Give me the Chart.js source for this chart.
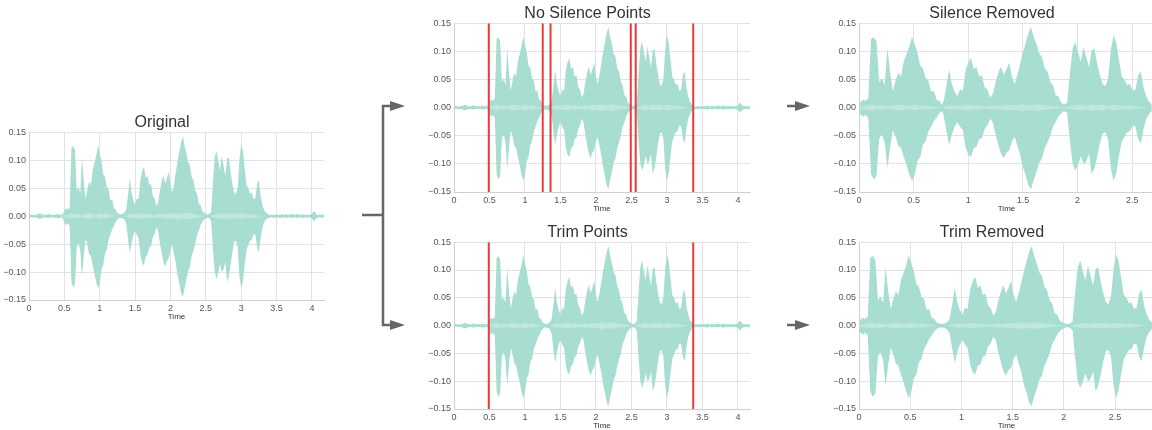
<!DOCTYPE html>
<html>
<head>
    <title>Silence removal</title>
    <script src="https://cdn.jsdelivr.net/npm/chart.js"></script>
    <style>
        body { margin: 0; width: 1152px; height: 430px; overflow: hidden; background: white; position: relative; }
        canvas { position: absolute; }
        #arrows { position: absolute; left: 0; top: 0; }
    </style>
</head>
<body>
    <canvas id="orig" width="335" height="215" style="left:0px;top:110px"></canvas>
    <canvas id="silencePts" width="335" height="216" style="left:425px;top:1px"></canvas>
    <canvas id="trimPts" width="335" height="214" style="left:425px;top:220px"></canvas>
    <canvas id="silenceOut" width="324" height="216" style="left:830px;top:1px"></canvas>
    <canvas id="trimOut" width="324" height="214" style="left:830px;top:220px"></canvas>

    <!-- flow arrows -->
    <svg id="arrows" width="1152" height="430">
        <g stroke="#666" stroke-width="2.5" fill="none">
            <polyline points="362,215 383,215" />
            <polyline points="392,106 383,106 383,325 392,325" />
            <line x1="787" y1="106" x2="797" y2="106" />
            <line x1="787" y1="325" x2="797" y2="325" />
        </g>
        <g fill="#666">
            <polygon points="390,101 405,106 390,111" />
            <polygon points="390,320 405,325 390,330" />
            <polygon points="795,101 810,106 795,111" />
            <polygon points="795,320 810,325 795,330" />
        </g>
    </svg>

<script>
// waveform envelope, one value every 0.025 s
const step = 0.025;
const upper = [
    0.002, 0.003, 0.002, 0.002, 0.003, 0.003, 0.005, 0.004, 0.002, 0.003,
    0.002, 0.004, 0.003, 0.002, 0.003, 0.002, 0.004, 0.002, 0.003, 0.003,
    0.010, 0.014, 0.012, 0.016, 0.122, 0.125, 0.118, 0.045, 0.052, 0.040,
    0.105, 0.062, 0.030, 0.048, 0.062, 0.055, 0.082, 0.095, 0.108, 0.126,
    0.112, 0.098, 0.075, 0.070, 0.052, 0.048, 0.028, 0.030, 0.014, 0.012,
    0.005, 0.004, 0.003, 0.004, 0.006, 0.012, 0.038, 0.068, 0.042, 0.028,
    0.020, 0.032, 0.030, 0.065, 0.080, 0.088, 0.068, 0.072, 0.055, 0.058,
    0.036, 0.032, 0.018, 0.024, 0.045, 0.062, 0.073, 0.058, 0.068, 0.080,
    0.055, 0.042, 0.058, 0.078, 0.098, 0.115, 0.132, 0.143, 0.125, 0.112,
    0.096, 0.090, 0.070, 0.064, 0.046, 0.040, 0.022, 0.020, 0.009, 0.006,
    0.004, 0.003, 0.004, 0.008, 0.060, 0.105, 0.117, 0.098, 0.082, 0.108,
    0.090, 0.072, 0.102, 0.105, 0.078, 0.058, 0.042, 0.038, 0.052, 0.102,
    0.129, 0.115, 0.085, 0.055, 0.050, 0.040, 0.042, 0.030, 0.032, 0.058,
    0.064, 0.035, 0.020, 0.010, 0.006, 0.004, 0.002, 0.003, 0.002, 0.003,
    0.002, 0.003, 0.002, 0.004, 0.002, 0.003, 0.003, 0.002, 0.003, 0.004,
    0.002, 0.003, 0.004, 0.002, 0.003, 0.003, 0.002, 0.003, 0.002, 0.003,
    0.004, 0.009, 0.006, 0.002, 0.003, 0.002, 0.003, 0.002
];
const lower = [
    -0.003, -0.002, -0.002, -0.003, -0.002, -0.004, -0.005, -0.004, -0.003, -0.002,
    -0.003, -0.004, -0.002, -0.003, -0.002, -0.003, -0.003, -0.004, -0.002, -0.003,
    -0.012, -0.016, -0.013, -0.018, -0.118, -0.128, -0.122, -0.055, -0.048, -0.062,
    -0.108, -0.070, -0.040, -0.052, -0.068, -0.072, -0.088, -0.102, -0.118, -0.130,
    -0.120, -0.095, -0.088, -0.066, -0.060, -0.042, -0.034, -0.024, -0.018, -0.010,
    -0.006, -0.003, -0.004, -0.004, -0.007, -0.014, -0.042, -0.067, -0.048, -0.034,
    -0.026, -0.034, -0.040, -0.070, -0.084, -0.088, -0.072, -0.070, -0.056, -0.054,
    -0.038, -0.032, -0.020, -0.026, -0.048, -0.066, -0.082, -0.090, -0.080, -0.076,
    -0.060, -0.052, -0.068, -0.084, -0.106, -0.120, -0.138, -0.145, -0.128, -0.114,
    -0.098, -0.090, -0.072, -0.062, -0.050, -0.034, -0.026, -0.016, -0.010, -0.006,
    -0.004, -0.003, -0.004, -0.009, -0.058, -0.100, -0.112, -0.102, -0.086, -0.100,
    -0.096, -0.082, -0.118, -0.108, -0.088, -0.064, -0.046, -0.044, -0.056, -0.108,
    -0.130, -0.116, -0.086, -0.060, -0.052, -0.044, -0.042, -0.032, -0.034, -0.056,
    -0.064, -0.038, -0.020, -0.011, -0.006, -0.004, -0.003, -0.002, -0.003, -0.003,
    -0.002, -0.003, -0.003, -0.004, -0.002, -0.003, -0.003, -0.002, -0.003, -0.003,
    -0.002, -0.003, -0.004, -0.002, -0.003, -0.003, -0.002, -0.003, -0.002, -0.003,
    -0.004, -0.009, -0.006, -0.003, -0.002, -0.003, -0.002, -0.003
];
// lighter core band near zero, one value every 0.05 s
const coreStep = 0.05;
const core = [
    0, 0, 0, 0, 0, 0, 0, 0, 0, 0,
    0.002, 0.003, 0.005, 0.003, 0.004, 0.002, 0.004, 0.005, 0.004, 0.003,
    0.005, 0.003, 0.004, 0.002, 0.001, 0, 0, 0, 0.002, 0.004,
    0.003, 0.004, 0.005, 0.003, 0.004, 0.002, 0.003, 0.004, 0.003, 0.005,
    0.004, 0.005, 0.006, 0.004, 0.005, 0.006, 0.004, 0.003, 0.002, 0.001,
    0, 0, 0.002, 0.004, 0.005, 0.003, 0.005, 0.004, 0.005, 0.003,
    0.005, 0.004, 0.003, 0.004, 0.002, 0.001, 0, 0, 0, 0,
    0, 0, 0, 0, 0, 0, 0, 0, 0, 0,
    0, 0, 0, 0
];

const silencePoints = [0.49, 1.25, 1.36, 2.49, 2.56, 3.37];
const trimPoints = [0.49, 3.37];
const yTicks = [-0.15, -0.10, -0.05, 0.00, 0.05, 0.10, 0.15];

const waveColor = '#a8ddd1';
const coreColor = '#c0e7de';

// keep only the kept parts [start,end] and join them end to end
function keepParts(values, dt, parts) {
    const out = [];
    let offset = 0;
    parts.forEach(([a, b]) => {
        values.forEach((v, i) => {
            const t = i * dt;
            if (t >= a && t <= b) out.push({ x: offset + t - a, y: v });
        });
        offset += b - a;
    });
    return out;
}
const whole = [[0, (upper.length - 1) * step]];
const silenceParts = [
    [silencePoints[0], silencePoints[1]],
    [silencePoints[2], silencePoints[3]],
    [silencePoints[4], silencePoints[5]]
];
const trimParts = [[trimPoints[0], trimPoints[1]]];

function waveSets(parts) {
    const coreHi = keepParts(core, coreStep, parts);
    return [
        { data: keepParts(upper, step, parts), fill: '+1', backgroundColor: waveColor, order: 2 },
        { data: keepParts(lower, step, parts), fill: false, backgroundColor: waveColor, order: 2 },
        { data: coreHi, fill: '+1', backgroundColor: coreColor, order: 1 },
        { data: coreHi.map(p => ({ x: p.x, y: -p.y })), fill: false, backgroundColor: coreColor, order: 1 }
    ].map(d => Object.assign(d, { borderWidth: 0, pointRadius: 0, tension: 0 }));
}

function markerSets(points) {
    return points.map(x => ({
        data: [{ x: x, y: -0.15 }, { x: x, y: 0.15 }],
        borderColor: '#f0393b',
        borderWidth: 2,
        pointRadius: 0,
        fill: false,
        order: 0
    }));
}

const tickFont = { family: 'Liberation Sans, Arial, sans-serif', size: 9 };
const gridColor = '#e2e2e2';

function makeChart(id, title, datasets, xMax, rightPad) {
    return new Chart(document.getElementById(id), {
        type: 'line',
        data: { datasets: datasets },
        options: {
            responsive: false,
            animation: false,
            devicePixelRatio: 1,
            layout: { padding: { left: 0, right: rightPad, top: 0, bottom: 0 } },
            plugins: {
                legend: { display: false },
                tooltip: { enabled: false },
                title: {
                    display: true,
                    text: title,
                    color: '#333',
                    font: { family: 'Liberation Sans, Arial, sans-serif', size: 16, weight: 'normal' },
                    padding: { top: 3, bottom: 0 }
                }
            },
            scales: {
                x: {
                    type: 'linear',
                    min: 0,
                    max: xMax,
                    afterFit: s => { s.height = 25; },
                    grid: { color: gridColor, drawTicks: false },
                    border: { color: '#d0d0d0' },
                    ticks: {
                        stepSize: 0.5,
                        includeBounds: false,
                        maxRotation: 0,
                        padding: 3,
                        color: '#555',
                        font: tickFont,
                        callback: v => String(Math.round(v * 10) / 10)
                    },
                    title: {
                        display: true,
                        text: 'Time',
                        color: '#333',
                        font: { family: 'Liberation Sans, Arial, sans-serif', size: 8 },
                        padding: { top: 0, bottom: 3 }
                    }
                },
                y: {
                    type: 'linear',
                    min: yTicks[0],
                    max: yTicks[yTicks.length - 1],
                    afterFit: s => { s.width = 29; },
                    afterBuildTicks: s => { s.ticks = yTicks.map(v => ({ value: v })); },
                    grid: { color: gridColor, drawTicks: false },
                    border: { color: '#d0d0d0' },
                    ticks: {
                        padding: 3,
                        color: '#555',
                        font: tickFont,
                        callback: v => {
                            const r = Math.round(v * 100) / 100;
                            return (r < 0 ? '\u2212' : '') + Math.abs(r).toFixed(2);
                        }
                    }
                }
            }
        }
    });
}

window.onload = () => {
    makeChart('orig', 'Original', waveSets(whole), 4.17, 11);
    makeChart('silencePts', 'No Silence Points', waveSets(whole).concat(markerSets(silencePoints)), 4.17, 10);
    makeChart('trimPts', 'Trim Points', waveSets(whole).concat(markerSets(trimPoints)), 4.17, 10);
    makeChart('silenceOut', 'Silence Removed', waveSets(silenceParts), 2.70, 0);
    makeChart('trimOut', 'Trim Removed', waveSets(trimParts), 2.88, 0);
};
</script>
</body>
</html>
